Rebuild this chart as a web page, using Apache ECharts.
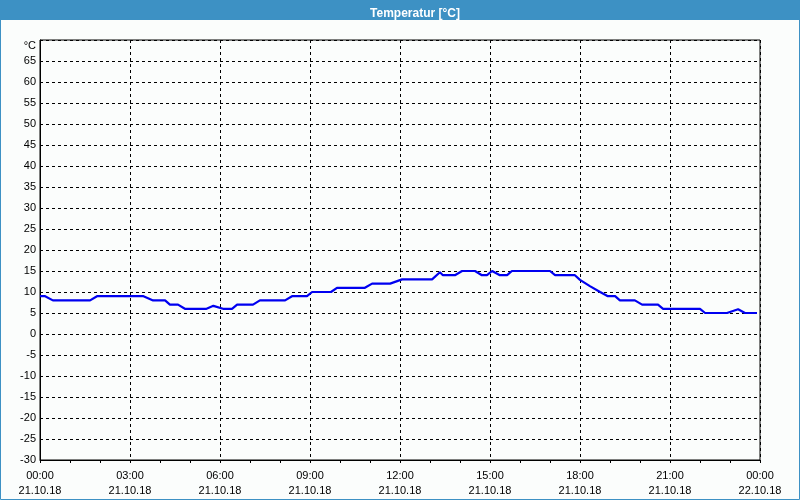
<!DOCTYPE html>
<html>
<head>
<meta charset="utf-8">
<script src="https://cdn.jsdelivr.net/npm/echarts@6/dist/echarts.min.js"></script>
<style>
html,body{margin:0;padding:0;background:#fbfdfc;}
#c{width:800px;height:500px;}
</style>
</head>
<body>
<div id="c"></div>
<script>
// Data (hours since 21.10.18 00:00, temperature °C)
var hours = [0, 0.17, 0.43, 1.67, 1.9, 3.45, 3.77, 4.17, 4.33, 4.6, 4.83, 5.55, 5.78, 6.1, 6.4, 6.57, 7.1, 7.33, 8.17, 8.4, 8.9, 9.07, 9.7, 9.9, 10.83, 11.07, 11.67, 12.07, 13.07, 13.33, 13.43, 13.83, 14.07, 14.5, 14.73, 14.9, 15.07, 15.33, 15.57, 15.73, 17.0, 17.17, 17.83, 18.0, 18.33, 18.67, 18.93, 19.17, 19.33, 19.83, 20.07, 20.6, 20.77, 22.0, 22.17, 22.9, 23.27, 23.5, 23.9];
var temps = [9, 9, 8, 8, 9, 9, 8, 8, 7, 7, 6, 6, 6.7, 6, 6, 7, 7, 8, 8, 9, 9, 10, 10, 11, 11, 12, 12, 13, 13, 14.7, 14, 14, 15, 15, 14, 14, 15, 14, 14, 15, 15, 14, 14, 12.9, 11.4, 10, 9, 9, 8, 8, 7, 7, 6, 6, 5, 5, 5.9, 5, 5];
var xTickTimes = ['00:00','03:00','06:00','09:00','12:00','15:00','18:00','21:00','00:00'];
var xTickDates = ['21.10.18','21.10.18','21.10.18','21.10.18','21.10.18','21.10.18','21.10.18','21.10.18','22.10.18'];
var titleText = 'Temperatur [°C]';
var unitLabel = '°C';

var seriesData = hours.map(function(h, i){ return [h, temps[i]]; });
var FONT = '"Liberation Sans", Arial, sans-serif';

var chart = echarts.init(document.getElementById('c'), null, {renderer:'canvas'});
chart.setOption({
  animation: false,
  backgroundColor: '#fbfdfc',
  title: {
    text: titleText,
    left: 410, top: 3,
    textAlign: 'center',
    textStyle: {color:'#ffffff', fontFamily: FONT, fontSize: 12, fontWeight: 'bold'}
  },
  graphic: [
    {type:'rect', z: -1, shape:{x:0, y:0, width:800, height:20}, style:{fill:'#3d91c4'}},
    {type:'rect', z: -1, shape:{x:0.5, y:0.5, width:799, height:499}, style:{fill:'none', stroke:'#3d91c4', lineWidth:1}}
  ],
  grid: {left:40, top:40, width:720, height:420, show:true, borderColor:'#000', borderWidth:1, backgroundColor:'transparent'},
  xAxis: {
    type:'value', min:0, max:24, interval:3,
    axisLine:{show:true, onZero:false, lineStyle:{color:'#000', width:1}},
    axisTick:{show:true, length:3, lineStyle:{color:'#000'}},
    minorTick:{show:true, splitNumber:3, length:3, lineStyle:{color:'#000'}},
    splitLine:{show:true, lineStyle:{color:'#000', type:[3,3], width:1}},
    axisLabel:{
      margin:8, color:'#000', fontFamily:FONT, fontSize:11, lineHeight:15,
      formatter:function(v){ var i = Math.round(v/3); return xTickTimes[i] + '\n' + xTickDates[i]; }
    }
  },
  yAxis: {
    type:'value', min:-30, max:70, interval:5,
    axisLine:{show:true, onZero:false, lineStyle:{color:'#000', width:1}},
    axisTick:{show:false},
    splitLine:{show:true, lineStyle:{color:'#000', type:[3,3], width:1}},
    axisLabel:{
      margin:4, color:'#000', fontFamily:FONT, fontSize:11,
      formatter:function(v){ return v === 70 ? '{u|' + unitLabel + '}' : String(v); },
      rich:{u:{color:'#000', fontFamily:FONT, fontSize:11, padding:[11,0,0,0]}}
    }
  },
  series: [{
    type:'line', data: seriesData, showSymbol:false, symbol:'none',
    lineStyle:{color:'#0000f0', width:2.2}
  }]
});
</script>
</body>
</html>
